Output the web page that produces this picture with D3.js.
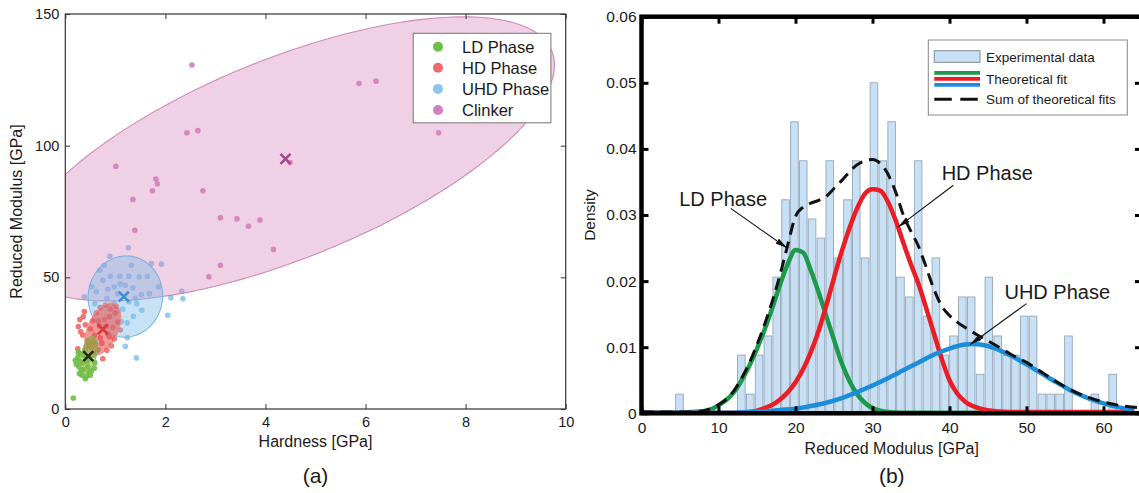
<!DOCTYPE html>
<html><head><meta charset="utf-8">
<script src="https://cdn.jsdelivr.net/npm/d3@7"></script>
<style>
body{margin:0;background:#fff}
svg{display:block}
text{font-family:"Liberation Sans",Arial,Helvetica,sans-serif;fill:#1a1a1a}
</style>
</head><body>
<svg id="c" width="1139" height="493"></svg>
<script>
// ---------------- Panel (a) data ----------------
const phaseNames = ["LD Phase", "HD Phase", "UHD Phase", "Clinker"];
const ldPoints = [[0.16,4.2],[0.20,18.5],[0.27,16.0],[0.33,12.8],[0.42,12.2],[0.52,14.4],[0.59,17.5],[0.38,20.4],[0.30,21.0],[0.25,19.5],[0.35,17.5],[0.45,16.0],[0.48,19.0],[0.55,20.5],[0.40,22.5],[0.32,14.5],[0.28,13.5],[0.50,12.8],[0.58,15.5],[0.44,18.0],[0.36,15.0],[0.22,17.0],[0.62,22.0],[0.52,23.5],[0.46,25.0],[0.56,26.0],[0.40,11.5],[0.30,18.0],[0.47,14.0],[0.26,21.5]];
const hdPoints = [[0.36,35.1],[0.26,31.3],[0.29,34.0],[0.35,28.1],[0.31,29.3],[0.25,22.9],[0.75,19.1],[0.83,22.3],[0.98,26.7],[0.57,21.0],[0.45,26.0],[0.50,30.5],[0.55,33.5],[0.62,36.5],[0.70,38.5],[0.80,39.5],[0.90,38.0],[1.00,36.5],[1.05,33.0],[0.95,31.0],[0.85,28.5],[0.70,27.0],[0.60,24.5],[0.68,31.5],[0.78,34.0],[0.88,35.0],[0.65,22.5],[0.42,23.5],[0.48,20.0],[1.10,30.0],[0.40,32.0],[0.73,25.0],[0.92,24.0],[0.58,28.0],[0.82,31.5],[1.02,39.0],[0.66,33.5],[0.38,37.0],[0.52,25.0],[0.88,27.5]];
const uhdPoints = [[1.26,61.2],[0.89,58.0],[0.78,54.6],[0.69,52.7],[1.32,54.6],[1.92,55.0],[1.72,55.2],[0.90,50.4],[1.09,50.4],[1.27,50.4],[1.48,50.2],[1.64,50.4],[1.20,47.0],[0.98,46.4],[1.86,46.4],[1.68,43.8],[0.62,44.5],[0.38,42.6],[0.83,41.9],[2.11,42.2],[2.33,44.7],[2.35,41.9],[1.43,40.0],[1.53,37.5],[1.36,35.2],[2.05,35.6],[1.24,32.7],[1.12,33.1],[1.24,27.1],[1.20,23.8],[1.42,19.4],[0.59,40.0],[0.98,40.0],[0.53,46.4],[1.05,43.8],[1.27,40.7],[0.75,48.9],[1.10,47.5],[1.35,46.0],[0.70,38.5],[1.00,36.5],[1.52,43.5],[0.85,45.5],[1.15,38.0],[1.40,42.0]];
const clinkerPoints = [[2.53,130.6],[5.87,123.6],[6.21,124.5],[7.46,104.9],[2.43,104.9],[2.65,105.7],[1.01,92.2],[1.81,87.3],[1.84,85.5],[1.74,82.9],[2.75,82.9],[1.35,79.6],[1.39,67.9],[3.10,72.6],[3.43,72.2],[3.66,69.4],[3.89,71.8],[4.16,60.6],[3.10,54.6],[2.87,50.2],[4.49,93.6]];
// cluster centres (hardness, modulus)
const centers = [[0.46,20.1],[0.75,30.3],[1.17,42.7],[4.40,95.0]];
// ellipse: centre, semi-axis vector u, semi-axis vector v (data units)
const ellCenters = [[0.47,20.5],[0.75,30.3],[1.20,42.7],[4.40,95.0]];
const ellU = [[0.10,7.0],[0.236,9.64],[0.74,2.0],[5.324,40.94]];
const ellV = [[0.13,-1.6],[0.272,-2.41],[-0.08,15.3],[0.748,-35.13]];
const aXTicks = [0,2,4,6,8,10];
const aYTicks = [0,50,100,150];

// ---------------- Panel (b) data ----------------
const binCenters = [4.93,6.08,7.23,8.38,9.53,10.67,11.82,12.97,14.12,15.27,16.41,17.56,18.71,19.86,21.01,22.15,23.30,24.45,25.60,26.75,27.89,29.04,30.19,31.34,32.49,33.63,34.78,35.93,37.08,38.23,39.37,40.52,41.67,42.82,43.97,45.11,46.26,47.41,48.56,49.71,50.85,52.00,53.15,54.30,55.45,56.59,57.74,58.89,60.04,61.19];
const binWidth = 1.148;
const density = [0.0029,0,0,0,0,0,0,0.0088,0.0029,0.0088,0.0117,0.0206,0.0323,0.0441,0.0382,0.0294,0.0265,0.0382,0.0235,0.0323,0.0382,0.0235,0.0500,0.0382,0.0441,0.0206,0.0176,0.0382,0.0147,0.0235,0.0088,0.0117,0.0176,0.0176,0.0059,0.0206,0.0117,0.0088,0.0088,0.0147,0.0147,0.0029,0.0029,0.0029,0.0117,0,0,0.0029,0,0.0059];

const ldFitX = [0,4,8,9,10,11,12,13,14,15,16,17,18,19,20,21,22,23,24,25,26,27,28,29,30,31,32,34,40,50,64];
const ldFitY = [0.0001,0.0001,0.0003,0.0006,0.0012,0.0020,0.0032,0.0050,0.0072,0.0098,0.0127,0.0160,0.0195,0.0226,0.0247,0.0243,0.0216,0.0183,0.0147,0.0111,0.0076,0.0049,0.0029,0.0016,0.0008,0.0004,0.0002,0.0001,0.0001,0.0001,0.0001];
const hdFitX = [0,10,12,14,15,16,17,18,19,20,21,22,23,24,25,26,27,28,29,30,31,32,33,34,35,36,37,38,39,40,41,42,43,44,46,48,64];
const hdFitY = [0.0001,0.0001,0.0001,0.0002,0.0004,0.0008,0.0013,0.0021,0.0032,0.0047,0.0067,0.0093,0.0125,0.0163,0.0205,0.0245,0.0280,0.0310,0.0332,0.0339,0.0337,0.0320,0.0292,0.0258,0.0225,0.0195,0.0158,0.0120,0.0082,0.0050,0.0030,0.0018,0.0011,0.0007,0.0003,0.0002,0.0002];
const uhdFitX = [0,12,14,16,18,20,22,24,26,28,30,32,34,36,38,40,42,43,44,46,48,50,52,54,56,58,60,62,64];
const uhdFitY = [0.0001,0.0001,0.0002,0.0003,0.0005,0.0007,0.0011,0.0016,0.0023,0.0032,0.0042,0.0053,0.0065,0.0077,0.0089,0.0098,0.0104,0.0105,0.0104,0.0098,0.0087,0.0074,0.0060,0.0046,0.0033,0.0023,0.0015,0.0009,0.0005];
const sumFitX = [0,7,8,9,10,11,12,13,14,15,16,17,18,19,20,21,22,23,24,25,26,27,28,29,30,31,32,33,34,35,36,37,38,39,40,41,42,44,46,48,50,52,54,56,58,60,62,64,65];
const sumFitY = [0.0002,0.0002,0.0004,0.0007,0.0013,0.0021,0.0034,0.0053,0.0076,0.0104,0.0135,0.0170,0.0210,0.0255,0.0298,0.0312,0.0318,0.0322,0.0328,0.0340,0.0352,0.0365,0.0376,0.0382,0.0384,0.0378,0.0362,0.0335,0.0300,0.0275,0.0252,0.0220,0.0187,0.0162,0.0148,0.0138,0.0130,0.0116,0.0103,0.0089,0.0077,0.0062,0.0047,0.0034,0.0024,0.0017,0.0012,0.0009,0.0008];
const bXTicks = [0,10,20,30,40,50,60];
const bYTicks = [0,0.01,0.02,0.03,0.04,0.05,0.06];
const legendB = ["Experimental data","Theoretical fit","Sum of theoretical fits"];
const annotations = [
  {label:"LD Phase", tx:10.6, ty:0.0314, fx:11.6, fy:0.0310, ex:18.9, ey:0.0250},
  {label:"HD Phase", tx:44.9, ty:0.0353, fx:40.5, fy:0.0345, ex:33.35, ey:0.0282},
  {label:"UHD Phase", tx:54.0, ty:0.0173, fx:50.0, fy:0.0166, ex:42.7, ey:0.0104}
];

// ---------------- Drawing ----------------
const svg = d3.select("#c");
const FONT = '"Liberation Sans",Arial,Helvetica,sans-serif';

// ===== Panel (a) =====
const xa = d3.scaleLinear().domain([0,10]).range([65.3,565.7]);
const ya = d3.scaleLinear().domain([0,150]).range([409,14]);
const phaseColors = ["#6cbf45","#ef6b6b","#8cc6ee","#d27fbd"];
const ellFill = ["#86b83c","#e85858","#7dbbe8","#d683b9"];
const ellFillOp = [0.5,0.62,0.42,0.38];
const ellStroke = ["#8ab35a","#f08c8c","#6aaee0","#c77aae"];
const crossColors = ["#1e2a1a","#d83a3a","#3a8fd2","#a8458e"];

svg.append("clipPath").attr("id","clipA").append("rect")
  .attr("x",xa(0)).attr("y",ya(150)).attr("width",xa(10)-xa(0)).attr("height",ya(0)-ya(150));
const gA = svg.append("g").attr("clip-path","url(#clipA)");

const allPoints = [ldPoints, hdPoints, uhdPoints, clinkerPoints];
[3,2,1,0].forEach(i=>{
  gA.append("g").selectAll("circle").data(allPoints[i]).join("circle")
    .attr("cx",d=>xa(d[0])).attr("cy",d=>ya(d[1])).attr("r",2.8)
    .attr("fill",phaseColors[i]).attr("opacity",0.92);
});
const tSteps = d3.range(0,121).map(k=>k/120*2*Math.PI);
const ellLine = d3.line().curve(d3.curveLinearClosed);
[3,2,1,0].forEach(i=>{
  const c = ellCenters[i], u = ellU[i], v = ellV[i];
  const pts = tSteps.map(t=>[xa(c[0]+u[0]*Math.cos(t)+v[0]*Math.sin(t)), ya(c[1]+u[1]*Math.cos(t)+v[1]*Math.sin(t))]);
  gA.append("path").attr("d",ellLine(pts))
    .attr("fill",ellFill[i]).attr("fill-opacity",ellFillOp[i])
    .attr("stroke",ellStroke[i]).attr("stroke-width",1.1).attr("stroke-opacity",0.85);
});
centers.forEach((c,i)=>{
  const cx = xa(c[0]), cy = ya(c[1]), s = 5;
  gA.append("path").attr("d",`M${cx-s},${cy-s}L${cx+s},${cy+s}M${cx-s},${cy+s}L${cx+s},${cy-s}`)
    .attr("stroke",crossColors[i]).attr("stroke-width",2.6).attr("fill","none");
});

function styleAxis(g, col, w, fs){
  g.select(".domain").remove();
  g.selectAll(".tick line").attr("stroke",col).attr("stroke-width",w);
  g.selectAll(".tick text").attr("font-family",FONT).attr("font-size",fs).attr("fill","#1a1a1a");
}
svg.append("g").attr("transform",`translate(0,${ya(0)})`)
  .call(d3.axisBottom(xa).tickValues(aXTicks).tickSize(-5).tickPadding(8).tickFormat(d3.format("d")))
  .call(g=>styleAxis(g,"#333",1,"14.5px"));
svg.append("g").attr("transform",`translate(0,${ya(150)})`)
  .call(d3.axisTop(xa).tickValues(aXTicks).tickSize(-5).tickFormat(""))
  .call(g=>styleAxis(g,"#333",1,"14.5px"));
svg.append("g").attr("transform",`translate(${xa(0)},0)`)
  .call(d3.axisLeft(ya).tickValues(aYTicks).tickSize(-5).tickPadding(6).tickFormat(d3.format("d")))
  .call(g=>styleAxis(g,"#333",1,"14.5px"));
svg.append("g").attr("transform",`translate(${xa(10)},0)`)
  .call(d3.axisRight(ya).tickValues(aYTicks).tickSize(-5).tickFormat(""))
  .call(g=>styleAxis(g,"#333",1,"14.5px"));
svg.append("rect").attr("x",xa(0)).attr("y",ya(150)).attr("width",xa(10)-xa(0)).attr("height",ya(0)-ya(150))
  .attr("fill","none").attr("stroke","#333").attr("stroke-width",1.2);

const legA = svg.append("g");
legA.append("rect").attr("x",413.2).attr("y",33.3).attr("width",137.7).attr("height",89.5)
  .attr("fill","#fff").attr("stroke","#777").attr("stroke-width",1);
phaseNames.forEach((n,i)=>{
  const yy = 46.7 + i*21.1;
  legA.append("circle").attr("cx",438).attr("cy",yy).attr("r",5).attr("fill",phaseColors[i]);
  legA.append("text").attr("x",462).attr("y",yy+6).attr("font-size","16.5px").text(n);
});

svg.append("text").attr("x",(xa(0)+xa(10))/2).attr("y",447).attr("text-anchor","middle")
  .attr("font-size","16px").text("Hardness [GPa]");
svg.append("text").attr("transform",`translate(22,${(ya(0)+ya(150))/2}) rotate(-90)`).attr("text-anchor","middle")
  .attr("font-size","16px").text("Reduced Modulus [GPa]");
svg.append("text").attr("x",(xa(0)+xa(10))/2).attr("y",482.5).attr("text-anchor","middle")
  .attr("font-size","21px").text("(a)");

// ===== Panel (b) =====
const xb = d3.scaleLinear().domain([0,65]).range([641.5,1142]);
const yb = d3.scaleLinear().domain([0,0.06]).range([413.3,16.7]);
svg.append("clipPath").attr("id","clipB").append("rect")
  .attr("x",xb(0)).attr("y",yb(0.06)).attr("width",xb(65)-xb(0)).attr("height",yb(0)-yb(0.06));
const gB = svg.append("g").attr("clip-path","url(#clipB)");

gB.append("g").selectAll("rect").data(binCenters.map((c,i)=>({c, d:density[i]})).filter(b=>b.d>0)).join("rect")
  .attr("x",b=>xb(b.c-binWidth*0.43)).attr("width",b=>xb(b.c+binWidth*0.43)-xb(b.c-binWidth*0.43))
  .attr("y",b=>yb(b.d)).attr("height",b=>yb(0)-yb(b.d))
  .attr("fill","#c7e0f6").attr("stroke","#98a6b4").attr("stroke-width",0.9);

const lineB = d3.line().x(d=>xb(d[0])).y(d=>yb(d[1])).curve(d3.curveMonotoneX);
const fits = [[ldFitX,ldFitY,"#1b9a4a"],[hdFitX,hdFitY,"#ec1c24"],[uhdFitX,uhdFitY,"#1c8ddb"]];
fits.forEach(f=>{
  gB.append("path").attr("d",lineB(f[0].map((x,i)=>[x,f[1][i]])))
    .attr("fill","none").attr("stroke",f[2]).attr("stroke-width",4.5).attr("stroke-linejoin","round");
});
gB.append("path").attr("d",lineB(sumFitX.map((x,i)=>[x,sumFitY[i]])))
  .attr("fill","none").attr("stroke","#111").attr("stroke-width",3).attr("stroke-dasharray","12,7");

svg.append("g").attr("transform",`translate(0,${yb(0)})`)
  .call(d3.axisBottom(xb).tickValues(bXTicks).tickSize(-7).tickPadding(8.5).tickFormat(d3.format("d")))
  .call(g=>styleAxis(g,"#000",3,"15.5px"));
svg.append("g").attr("transform",`translate(0,${yb(0.06)})`)
  .call(d3.axisTop(xb).tickValues(bXTicks).tickSize(-7).tickFormat(""))
  .call(g=>styleAxis(g,"#000",3,"15.5px"));
svg.append("g").attr("transform",`translate(${xb(0)},0)`)
  .call(d3.axisLeft(yb).tickValues(bYTicks).tickSize(-7).tickPadding(5).tickFormat(d=>d===0?"0":d3.format(".2f")(d)))
  .call(g=>styleAxis(g,"#000",3,"15.5px"));
svg.append("g").attr("transform",`translate(${xb(65)},0)`)
  .call(d3.axisRight(yb).tickValues(bYTicks).tickSize(-7).tickFormat(""))
  .call(g=>styleAxis(g,"#000",3,"15.5px"));
svg.append("rect").attr("x",xb(0)).attr("y",yb(0.06)).attr("width",xb(65)-xb(0)).attr("height",yb(0)-yb(0.06))
  .attr("fill","none").attr("stroke","#000").attr("stroke-width",4.5);

const defs = svg.append("defs");
defs.append("marker").attr("id","arr").attr("viewBox","0 0 12 6").attr("refX",12).attr("refY",3)
  .attr("markerWidth",12).attr("markerHeight",6).attr("markerUnits","userSpaceOnUse").attr("orient","auto")
  .append("path").attr("d","M0,0L12,3L0,6Z").attr("fill","#111");
annotations.forEach(a=>{
  svg.append("line").attr("x1",xb(a.fx)).attr("y1",yb(a.fy)).attr("x2",xb(a.ex)).attr("y2",yb(a.ey))
    .attr("stroke","#111").attr("stroke-width",1.1).attr("marker-end","url(#arr)");
  svg.append("text").attr("x",xb(a.tx)).attr("y",yb(a.ty)).attr("text-anchor","middle")
    .attr("font-size","20px").text(a.label);
});

const legB = svg.append("g");
legB.append("rect").attr("x",928.3).attr("y",40).attr("width",199).attr("height",75)
  .attr("fill","#fff").attr("stroke","#888").attr("stroke-width",1);
legB.append("rect").attr("x",934.3).attr("y",50.7).attr("width",45.7).attr("height",11.6)
  .attr("fill","#c7e0f6").attr("stroke","#7f8a96").attr("stroke-width",1);
[["#1b9a4a",72.9],["#ec1c24",78.9],["#1c8ddb",84.9]].forEach(l=>{
  legB.append("line").attr("x1",934.3).attr("x2",980).attr("y1",l[1]).attr("y2",l[1])
    .attr("stroke",l[0]).attr("stroke-width",3.6);
});
legB.append("line").attr("x1",934.3).attr("x2",980).attr("y1",99.3).attr("y2",99.3)
  .attr("stroke","#111").attr("stroke-width",3).attr("stroke-dasharray","17.5,8.5");
[62.3,83.7,104.1].forEach((yy,i)=>{
  legB.append("text").attr("x",986).attr("y",yy).attr("font-size","13.5px").text(legendB[i]);
});

svg.append("text").attr("x",(xb(0)+xb(65))/2).attr("y",453.5).attr("text-anchor","middle")
  .attr("font-size","16px").text("Reduced Modulus [GPa]");
svg.append("text").attr("transform",`translate(595,${(yb(0)+yb(0.06))/2}) rotate(-90)`).attr("text-anchor","middle")
  .attr("font-size","15.5px").text("Density");
svg.append("text").attr("x",(xb(0)+xb(65))/2).attr("y",482.5).attr("text-anchor","middle")
  .attr("font-size","21px").text("(b)");
</script>
</body></html>
